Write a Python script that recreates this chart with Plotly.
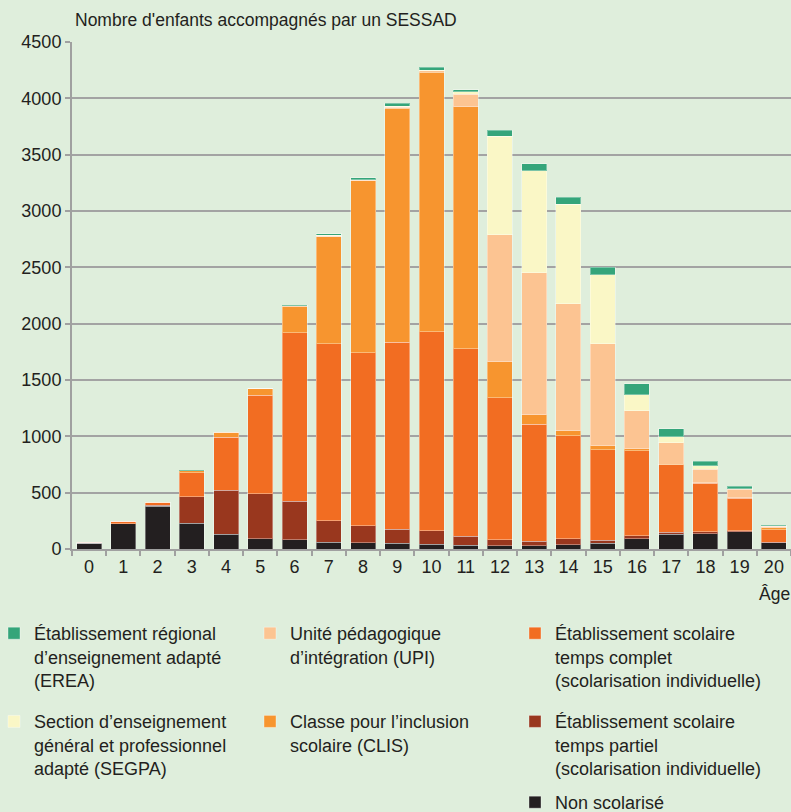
import plotly.graph_objects as go

ages = [str(a) for a in range(21)]

non_scolarise = [50, 222, 378, 228, 133, 92, 80, 59, 56, 50, 42, 33, 30, 30, 38, 50, 92, 130, 136, 154, 56]
temps_partiel = [0, 3, 12, 237, 388, 399, 343, 193, 151, 125, 121, 82, 53, 41, 54, 27, 26, 18, 16, 9, 5]
temps_complet = [12, 21, 20, 213, 471, 874, 1498, 1568, 1536, 1661, 1767, 1664, 1261, 1036, 914, 805, 755, 598, 431, 287, 111]
clis = [0, 0, 5, 15, 44, 56, 231, 953, 1525, 2077, 2303, 2148, 317, 83, 45, 36, 18, 5, 5, 3, 18]
upi = [0, 0, 0, 0, 0, 0, 5, 5, 5, 10, 10, 110, 1130, 1264, 1127, 905, 337, 193, 122, 77, 10]
segpa = [0, 0, 0, 0, 0, 0, 0, 5, 5, 8, 8, 21, 873, 903, 880, 613, 142, 53, 27, 6, 3]
erea = [0, 0, 0, 5, 0, 0, 8, 15, 15, 25, 24, 18, 54, 62, 65, 65, 95, 69, 44, 23, 7]

y_ticks = [0, 500, 1000, 1500, 2000, 2500, 3000, 3500, 4000, 4500]

series = [
    ("Non scolarisé", non_scolarise, "#231F20", "legend4", 1),
    ("Établissement scolaire<br>temps partiel<br>(scolarisation individuelle)", temps_partiel, "#99371E", "legend3", 2),
    ("Établissement scolaire<br>temps complet<br>(scolarisation individuelle)", temps_complet, "#F26D22", "legend3", 1),
    ("Classe pour l’inclusion<br>scolaire (CLIS)<br>\u00a0", clis, "#F7952F", "legend2", 2),
    ("Unité pédagogique<br>d’intégration (UPI)<br>\u00a0", upi, "#FCC492", "legend2", 1),
    ("Section d’enseignement<br>général et professionnel<br>adapté (SEGPA)", segpa, "#FAF7C6", "legend", 2),
    ("Établissement régional<br>d’enseignement adapté<br>(EREA)", erea, "#35A57A", "legend", 1),
]

FONT = "Liberation Sans, Arial, sans-serif"
TXT = "#231F20"

fig = go.Figure()
for i, (name, vals, col, leg, rank) in enumerate(series):
    fig.add_trace(go.Bar(
        x=ages, y=vals, name=name,
        marker=dict(color=col, line=dict(color="rgba(255,255,255,0.35)", width=1)),
        legend=leg, legendrank=rank, legendgroup=f"g{i}",
        hoverinfo="skip",
    ))

W, H = 791, 812
L, R, T, B = 72, 0, 42, 263
pw, ph = W - L - R, H - T - B

def px(xp):
    return (xp - L) / pw

def py(yp):
    return (H - B - yp) / ph

def cx(xp):
    return xp / W

def cy(yp):
    return 1 - yp / H

leg_common = dict(
    xref="container", yref="container", xanchor="left", yanchor="top",
    orientation="v", traceorder="grouped", tracegroupgap=15,
    bgcolor="rgba(0,0,0,0)", font=dict(family=FONT, size=18, color=TXT),
    valign="top", itemclick=False, itemdoubleclick=False,
)

fig.update_layout(
    template="none",
    width=W, height=H,
    margin=dict(l=L, r=R, t=T, b=B, pad=0, autoexpand=False),
    paper_bgcolor="#DFEEDC", plot_bgcolor="#DFEEDC",
    barmode="stack", bargap=0.27,
    font=dict(family=FONT, size=18, color=TXT),
    xaxis=dict(
        type="category", range=[-0.5, 20.5], automargin=False,
        showline=True, linecolor="#A0A0A0", linewidth=2,
        ticks="outside", tickson="boundaries", ticklen=5, tickcolor="#A0A0A0", tickwidth=2,
        showgrid=False, zeroline=False, tickfont=dict(size=18, color=TXT),
    ),
    yaxis=dict(
        range=[0, 4500], tickvals=y_ticks, ticktext=[str(v) for v in y_ticks],
        automargin=False,
        showline=True, linecolor="#A0A0A0", linewidth=2,
        ticks="outside", ticklen=5, tickcolor="#A0A0A0", tickwidth=2,
        showgrid=True, gridcolor="#A3A3A3", gridwidth=2,
        zeroline=False, tickfont=dict(size=18, color=TXT),
    ),
    legend=dict(leg_common, xref="paper", x=px(-6), y=cy(615)),
    legend2=dict(leg_common, x=cx(250), y=cy(615)),
    legend3=dict(leg_common, x=cx(515), y=cy(615)),
    legend4=dict(leg_common, x=cx(515), y=cy(784)),
    annotations=[
        dict(text="Nombre d'enfants accompagnés par un SESSAD", xref="paper", yref="paper",
             x=px(73), y=py(20), xanchor="left", yanchor="middle", showarrow=False,
             font=dict(family=FONT, size=17.5, color=TXT)),
        dict(text="Âge", xref="paper", yref="paper",
             x=px(757), y=py(594), xanchor="left", yanchor="middle", showarrow=False,
             font=dict(family=FONT, size=17.5, color=TXT)),
    ],
)

fig.write_html(
    "out.html",
    config={"displayModeBar": False},
    post_script="document.body.style.margin='0';document.body.style.overflow='hidden';",
)
